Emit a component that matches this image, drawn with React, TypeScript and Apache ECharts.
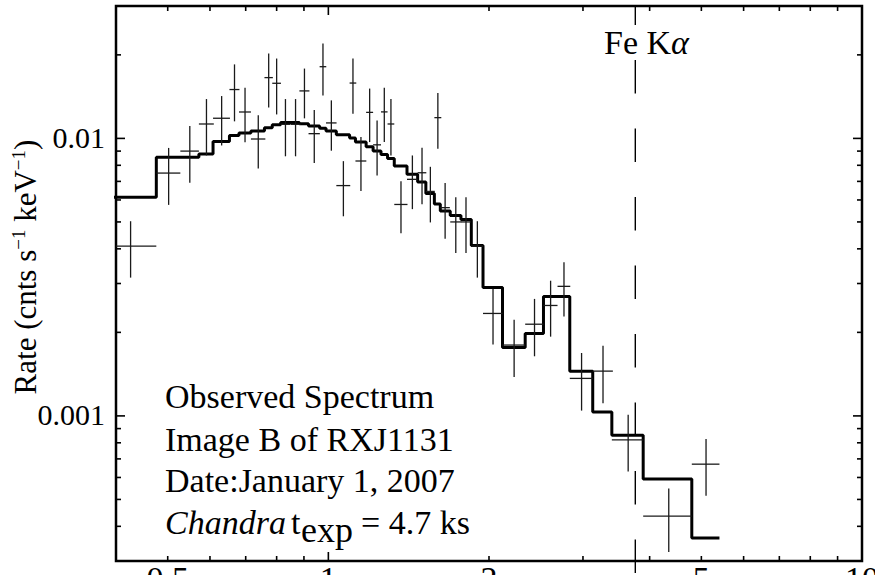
import React, { useEffect, useRef } from "react";
import * as echarts from "echarts";

// ---- data ----
const energy = [0.426, 0.502, 0.55, 0.591, 0.631, 0.667, 0.698, 0.739, 0.773, 0.8, 0.831, 0.868, 0.902, 0.941, 0.977, 1.013, 1.067, 1.112, 1.151, 1.195, 1.234, 1.273, 1.31, 1.368, 1.437, 1.498, 1.553, 1.604, 1.655, 1.733, 1.811, 1.902, 2.035, 2.229, 2.434, 2.609, 2.764, 2.982, 3.271, 3.646, 4.344, 5.102];
const energyHalfWidth = [0.05, 0.026, 0.022, 0.019, 0.023, 0.0144, 0.018, 0.023, 0.014, 0.015, 0.017, 0.019, 0.0195, 0.023, 0.014, 0.023, 0.032, 0.016, 0.027, 0.018, 0.021, 0.018, 0.019, 0.039, 0.033, 0.028, 0.03, 0.024, 0.034, 0.041, 0.039, 0.049, 0.086, 0.109, 0.096, 0.079, 0.076, 0.148, 0.142, 0.248, 0.454, 0.304];
const rate = [0.00409, 0.0075, 0.009, 0.01127, 0.01182, 0.015, 0.01245, 0.00995, 0.01656, 0.0158, 0.01124, 0.01124, 0.01483, 0.0104, 0.01813, 0.01137, 0.00676, 0.01583, 0.00829, 0.01241, 0.00948, 0.01246, 0.01127, 0.00578, 0.00712, 0.00752, 0.00644, 0.01188, 0.00563, 0.005, 0.005, 0.00409, 0.00234, 0.0018, 0.00214, 0.0025, 0.00293, 0.001365, 0.00145, 0.00082, 0.000435, 0.00067];
const rateErr = [0.00094, 0.00174, 0.00208, 0.00259, 0.00239, 0.00348, 0.00277, 0.00216, 0.00365, 0.0036, 0.00262, 0.00262, 0.00302, 0.00225, 0.00384, 0.00234, 0.00152, 0.00356, 0.00182, 0.00271, 0.00213, 0.00276, 0.00259, 0.00123, 0.00156, 0.00173, 0.00146, 0.0027, 0.00128, 0.00114, 0.00114, 0.00094, 0.00053, 0.00042, 0.0005, 0.00057, 0.00065, 0.00032, 0.00034, 0.00019, 0.000112, 0.000155];
const modelRate = [0.00614, 0.00855, 0.00855, 0.00879, 0.00975, 0.01025, 0.01045, 0.01063, 0.01093, 0.01119, 0.01142, 0.01142, 0.0113, 0.01109, 0.01087, 0.01064, 0.0103, 0.01003, 0.0097, 0.00933, 0.00901, 0.00875, 0.00847, 0.00796, 0.00743, 0.00697, 0.00633, 0.0058, 0.00547, 0.00527, 0.0051, 0.00411, 0.002905, 0.001764, 0.001982, 0.002696, 0.002696, 0.001448, 0.001033, 0.000852, 0.000592, 0.000363];

const xMajorTicks = [1, 10];
const xMinorTicks = [0.5, 0.6, 0.7, 0.8, 0.9, 2, 3, 4, 5, 6, 7, 8, 9];
const xLabelValues = [0.5, 1, 2, 5, 10];
const xLabels = ["0.5", "1", "2", "5", "10"];
const yMajorTicks = [0.001, 0.01];
const yMinorTicks = [0.0003, 0.0004, 0.0005, 0.0006, 0.0007, 0.0008, 0.0009, 0.002, 0.003, 0.004, 0.005, 0.006, 0.007, 0.008, 0.009, 0.02, 0.03];
const yLabelValues = [0.001, 0.01];
const yLabels = ["0.001", "0.01"];
const feKalphaEnergy = 3.76;

const X_MIN = 0.4;
const X_MAX = 10;
const Y_MIN = 0.0003;
const Y_MAX = 0.03;

const SERIF = "Liberation Serif";

function txt(text: string, x: number, y: number, size: number, extra: any = {}) {
  return {
    type: "text",
    x,
    y,
    style: {
      text,
      fill: "#000",
      fontSize: size,
      fontFamily: SERIF,
      align: "left",
      verticalAlign: "middle",
      textAlign: "left",
      textVerticalAlign: "middle",
      ...extra,
    },
  };
}

export default function App() {
  const ref = useRef<HTMLDivElement>(null);
  useEffect(() => {
    const chart = echarts.init(ref.current as HTMLDivElement, null, { renderer: "svg" });

    const last = energy.length - 1;
    const modelPoints: number[][] = energy.map((e, i) => [e - energyHalfWidth[i], modelRate[i]]);
    modelPoints.push([energy[last] + energyHalfWidth[last], modelRate[last]]);

    const crossData = energy.map((e, i) => [e, energyHalfWidth[i], rate[i], rateErr[i]]);
    const xTickData = [
      ...xMinorTicks.map((v) => [v, Y_MIN, 0]),
      ...xMajorTicks.map((v) => [v, Y_MIN, 1]),
    ];
    const yTickData = [
      ...yMinorTicks.map((v) => [X_MIN, v, 0]),
      ...yMajorTicks.map((v) => [X_MIN, v, 1]),
    ];
    const xLabelData = xLabelValues.map((v, i) => [v, Y_MIN, i]);
    const yLabelData = yLabelValues.map((v, i) => [X_MIN, v, i]);

    const option: any = {
      animation: false,
      backgroundColor: "#fff",
      grid: {
        left: 116,
        right: 13,
        top: 6,
        bottom: 14,
        show: true,
        borderColor: "#000",
        borderWidth: 2.5,
        backgroundColor: "transparent",
      },
      xAxis: {
        type: "log",
        logBase: 10,
        min: X_MIN,
        max: X_MAX,
        axisLine: { show: false },
        axisTick: { show: false },
        axisLabel: { show: false },
        splitLine: { show: false },
      },
      yAxis: {
        type: "log",
        logBase: 10,
        min: Y_MIN,
        max: Y_MAX,
        axisLine: { show: false },
        axisTick: { show: false },
        axisLabel: { show: false },
        splitLine: { show: false },
      },
      series: [
        {
          type: "line",
          step: "end",
          data: modelPoints,
          symbol: "none",
          clip: true,
          lineStyle: { color: "#000", width: 3 },
          z: 3,
          silent: true,
        },
        {
          type: "custom",
          clip: true,
          silent: true,
          z: 4,
          encode: { x: 0, y: 2 },
          data: crossData,
          renderItem: (params: any, api: any) => {
            const e = api.value(0);
            const de = api.value(1);
            const r = api.value(2);
            const dr = api.value(3);
            const c = api.coord([e, r]);
            const lo = api.coord([e - de, r]);
            const hi = api.coord([e + de, r]);
            const top = api.coord([e, r + dr]);
            const bot = api.coord([e, r - dr]);
            const cs = params.coordSys;
            const x1 = Math.max(lo[0], cs.x);
            const y2 = Math.min(bot[1], cs.y + cs.height);
            const st = { stroke: "#1a1a1a", lineWidth: 1.3 };
            return {
              type: "group",
              children: [
                { type: "line", shape: { x1, y1: c[1], x2: hi[0], y2: c[1] }, style: st },
                { type: "line", shape: { x1: c[0], y1: top[1], x2: c[0], y2 }, style: st },
              ],
            };
          },
        },
        {
          type: "custom",
          clip: false,
          silent: true,
          z: 5,
          encode: { x: 0, y: 1 },
          data: [[feKalphaEnergy, Y_MIN]],
          renderItem: (params: any, api: any) => {
            const cs = params.coordSys;
            const p = api.coord([api.value(0), api.value(1)]);
            return {
              type: "line",
              shape: { x1: p[0], y1: cs.y + cs.height + 12, x2: p[0], y2: cs.y },
              style: { stroke: "#000", lineWidth: 1.4, lineDash: [33.5, 35] },
            };
          },
        },
        {
          type: "custom",
          clip: false,
          silent: true,
          z: 6,
          encode: { x: 0, y: 1 },
          data: xTickData,
          renderItem: (params: any, api: any) => {
            const cs = params.coordSys;
            const p = api.coord([api.value(0), api.value(1)]);
            const len = api.value(2) ? 9 : 5;
            const b = cs.y + cs.height;
            const t = cs.y;
            const st = { stroke: "#000", lineWidth: 1.6 };
            return {
              type: "group",
              children: [
                { type: "line", shape: { x1: p[0], y1: b + 1, x2: p[0], y2: b - len }, style: st },
                { type: "line", shape: { x1: p[0], y1: t - 1, x2: p[0], y2: t + len }, style: st },
              ],
            };
          },
        },
        {
          type: "custom",
          clip: false,
          silent: true,
          z: 6,
          encode: { x: 0, y: 1 },
          data: yTickData,
          renderItem: (params: any, api: any) => {
            const cs = params.coordSys;
            const p = api.coord([api.value(0), api.value(1)]);
            const len = api.value(2) ? 9 : 5;
            const l = cs.x;
            const r = cs.x + cs.width;
            const st = { stroke: "#000", lineWidth: 1.6 };
            return {
              type: "group",
              children: [
                { type: "line", shape: { x1: l - 1, y1: p[1], x2: l + len, y2: p[1] }, style: st },
                { type: "line", shape: { x1: r + 1, y1: p[1], x2: r - len, y2: p[1] }, style: st },
              ],
            };
          },
        },
        {
          type: "custom",
          clip: false,
          silent: true,
          z: 6,
          encode: { x: 0, y: 1 },
          data: xLabelData,
          renderItem: (params: any, api: any) => {
            const cs = params.coordSys;
            const p = api.coord([api.value(0), api.value(1)]);
            return {
              type: "text",
              x: p[0],
              y: cs.y + cs.height + 17,
              style: {
                text: xLabels[api.value(2)],
                fill: "#000",
                fontSize: 34,
                fontFamily: SERIF,
                align: "center",
                textAlign: "center",
                verticalAlign: "middle",
                textVerticalAlign: "middle",
              },
            };
          },
        },
        {
          type: "custom",
          clip: false,
          silent: true,
          z: 6,
          encode: { x: 0, y: 1 },
          data: yLabelData,
          renderItem: (params: any, api: any) => {
            const cs = params.coordSys;
            const p = api.coord([api.value(0), api.value(1)]);
            return {
              type: "text",
              x: cs.x - 11,
              y: p[1] - 1,
              style: {
                text: yLabels[api.value(2)],
                fill: "#000",
                fontSize: 30,
                fontFamily: SERIF,
                align: "right",
                textAlign: "right",
                verticalAlign: "middle",
                textVerticalAlign: "middle",
              },
            };
          },
        },
      ],
      graphic: [
        {
          type: "text",
          x: 25,
          y: 267,
          rotation: Math.PI / 2,
          style: {
            text: "{n|Rate (cnts s}{s|−1}{n| keV}{s|−1}{n|)}",
            fill: "#000",
            align: "center",
            verticalAlign: "middle",
            textAlign: "center",
            textVerticalAlign: "middle",
            rich: {
              n: { fontSize: 31, fontFamily: SERIF, fill: "#000", lineHeight: 32, verticalAlign: "bottom" },
              s: { fontSize: 19, fontFamily: SERIF, fill: "#000", lineHeight: 32, verticalAlign: "top" },
            },
          },
        },
        {
          type: "text",
          x: 604,
          y: 42,
          style: {
            text: "{n|Fe K}{i|α}",
            fill: "#000",
            align: "left",
            verticalAlign: "middle",
            textAlign: "left",
            textVerticalAlign: "middle",
            rich: {
              n: { fontSize: 34, fontFamily: SERIF, fill: "#000" },
              i: { fontSize: 34, fontFamily: SERIF, fontStyle: "italic", fill: "#000" },
            },
          },
        },
        txt("Observed Spectrum", 165, 396, 34),
        txt("Image B of RXJ1131", 165, 439, 34),
        txt("Date:January 1, 2007", 165, 480, 34),
        txt("Chandra", 165, 522, 34, { fontStyle: "italic" }),
        txt("t", 291, 522, 34),
        txt("exp", 301, 530, 36),
        txt("= 4.7 ks", 361, 522, 34),
      ],
    };

    chart.setOption(option);
    return () => chart.dispose();
  }, []);

  return (
    <div
      ref={ref}
      style={{ position: "fixed", left: 0, top: 0, width: 875, height: 575, background: "#fff" }}
    />
  );
}
